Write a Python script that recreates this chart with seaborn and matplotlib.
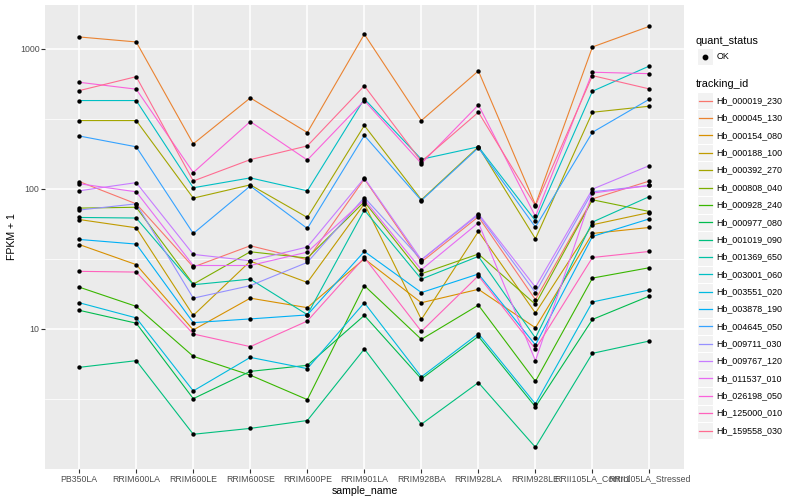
import numpy as np
import pandas as pd
import matplotlib
matplotlib.use("Agg")
import matplotlib.pyplot as plt
import seaborn as sns
from matplotlib.lines import Line2D
from matplotlib.patches import Rectangle
from matplotlib.ticker import FixedLocator, NullFormatter

# ---------------- data ----------------
samples = ["PB350LA", "RRIM600LA", "RRIM600LE", "RRIM600SE", "RRIM600PE",
           "RRIM901LA", "RRIM928BA", "RRIM928LA", "RRIM928LE",
           "RRII105LA_Control", "RRII105LA_Stressed"]

tracking_ids = ["Hb_000019_230", "Hb_000045_130", "Hb_000154_080", "Hb_000188_100",
                "Hb_000392_270", "Hb_000808_040", "Hb_000928_240", "Hb_000977_080",
                "Hb_001019_090", "Hb_001369_650", "Hb_003001_060", "Hb_003551_020",
                "Hb_003878_190", "Hb_004645_050", "Hb_009711_030", "Hb_009767_120",
                "Hb_011537_010", "Hb_026198_050", "Hb_125000_010", "Hb_159558_030"]

palette = ["#F8766D", "#EA8331", "#D89000", "#C09B00", "#A3A500", "#7CAE00",
           "#39B600", "#00BB4E", "#00BF7D", "#00C1A3", "#00BFC4", "#00BAE0",
           "#00B0F6", "#35A2FF", "#9590FF", "#C77CFF", "#E76BF3", "#FA62DB",
           "#FF62BC", "#FF6C91"]

hb_000019_230 = [113, 78.3, 27.7, 39.3, 31.2, 118, 30.1, 63.3, 16.2, 85, 114]
hb_000045_130 = [1218, 1122, 210, 447, 253, 1274, 308, 697, 77, 1033, 1452]
hb_000154_080 = [40.1, 28.8, 9.84, 16.6, 14.2, 31.7, 15.4, 19.2, 10.2, 48.1, 53.1]
hb_000188_100 = [60.5, 52.8, 12.5, 30.5, 21.5, 78.3, 11.7, 49.7, 13, 55.5, 67.9]
hb_000392_270 = [308, 308, 86, 107, 62.6, 284, 83.7, 200, 44.1, 353, 390]
hb_000808_040 = [73, 74, 20.9, 35.6, 32.1, 81, 24.8, 34.3, 15, 83.7, 69]
hb_000928_240 = [19.9, 14.5, 6.38, 4.68, 3.13, 20.4, 8.43, 14.8, 4.23, 23.1, 27.4]
hb_000977_080 = [13.6, 11, 3.18, 4.98, 5.5, 12.5, 4.4, 8.85, 2.78, 11.7, 17.2]
hb_001019_090 = [5.32, 5.94, 1.77, 1.95, 2.22, 7.2, 2.09, 4.14, 1.43, 6.7, 8.21]
hb_001369_650 = [62.6, 62, 20.7, 22.7, 12.65, 70.7, 22.7, 33, 8.63, 58, 88.3]
hb_003001_060 = [428, 428, 102, 120, 97, 440, 163, 200, 59.3, 499, 756]
hb_003551_020 = [15.4, 12, 3.61, 6.27, 5.21, 15.4, 4.55, 9.26, 2.92, 15.6, 19]
hb_003878_190 = [43.6, 40.4, 11.1, 11.8, 12.6, 35.8, 18.2, 24.7, 7.69, 45.8, 61.2]
hb_004645_050 = [239, 200, 48.1, 105, 52.2, 241, 82.7, 197, 53.4, 254, 438]
hb_009711_030 = [70.7, 78.3, 16.6, 20.4, 29.9, 86.9, 31.2, 65.4, 18.2, 95.4, 106]
hb_009767_120 = [97, 111, 34.1, 30.7, 38.5, 119.5, 31.2, 66.5, 19.9, 99.7, 147]
hb_011537_010 = [109, 95.4, 28.4, 28.4, 35.4, 83.7, 26.5, 57.3, 5.94, 93.4, 106]
hb_026198_050 = [578, 516, 131, 303, 161, 428, 152, 398, 63.6, 682, 666]
hb_125000_010 = [25.8, 25.5, 9.21, 7.48, 11.4, 32.4, 9.61, 24, 7.2, 32.4, 35.8]
hb_159558_030 = [504, 634, 114, 162, 203, 545, 157, 353, 75.8, 645, 518]

series = [hb_000019_230, hb_000045_130, hb_000154_080, hb_000188_100, hb_000392_270,
          hb_000808_040, hb_000928_240, hb_000977_080, hb_001019_090, hb_001369_650,
          hb_003001_060, hb_003551_020, hb_003878_190, hb_004645_050, hb_009711_030,
          hb_009767_120, hb_011537_010, hb_026198_050, hb_125000_010, hb_159558_030]

quant_status = ["OK"]

rows = []
for tid, vals in zip(tracking_ids, series):
    for s, v in zip(samples, vals):
        rows.append({"tracking_id": tid, "sample_name": s, "fpkm1": v, "quant_status": "OK"})
df = pd.DataFrame(rows)

# ---------------- style ----------------
plt.rcParams["font.family"] = ["Liberation Sans", "DejaVu Sans"]
W, H = 800, 500
fig = plt.figure(figsize=(8, 5), dpi=100)
L, R, T, B = 45, 683.7, 5, 469
ax = fig.add_axes([L / W, 1 - B / H, (R - L) / W, (B - T) / H])
ax.set_facecolor("#EBEBEB")
ax.set_yscale("log")

sns.lineplot(data=df, x="sample_name", y="fpkm1", hue="tracking_id",
             hue_order=tracking_ids, palette=palette, sort=False,
             estimator=None, linewidth=0.8, legend=False, ax=ax)
sns.scatterplot(data=df, x="sample_name", y="fpkm1", color="black", s=10,
                linewidth=0, legend=False, ax=ax, zorder=3)

ax.set_xlim(-0.6, len(samples) - 0.4)
ax.set_ylim(1.0, 2060)
ax.yaxis.set_major_locator(FixedLocator([10, 100, 1000]))
ax.yaxis.set_minor_locator(FixedLocator([10 ** 0.5, 10 ** 1.5, 10 ** 2.5]))
ax.yaxis.set_minor_formatter(NullFormatter())
ax.set_yticklabels(["10", "100", "1000"])
ax.set_xticks(range(len(samples)))
ax.set_xticklabels(samples)

ax.set_axisbelow(True)
ax.grid(which="major", color="white", linewidth=1.1)
ax.grid(which="minor", axis="y", color="white", linewidth=0.55)
for sp in ax.spines.values():
    sp.set_visible(False)
ax.tick_params(axis="both", which="major", length=2.8, width=0.8, color="#333333",
               labelcolor="#4D4D4D", labelsize=6.3, pad=1.2)
ax.tick_params(axis="both", which="minor", length=0)

ax.set_xlabel("sample_name", fontsize=7.6, color="black", labelpad=1.5)
ax.set_ylabel("FPKM + 1", fontsize=7.6, color="black", labelpad=2)

# ---------------- legend (ggplot style) ----------------
def fx(x):
    return x / W

def fy(y):
    return 1 - y / H

kx0, kx1 = 697.0, 713.0
kh = 17.36
tx = 716.7

fig.text(fx(696), fy(40.7), "quant_status", fontsize=7.8, va="center", ha="left")
fig.add_artist(Rectangle((fx(kx0), fy(56.7 + kh / 2)), fx(kx1 - kx0), kh / H,
                         transform=fig.transFigure, facecolor="#F2F2F2",
                         edgecolor="white", linewidth=0.8))
fig.add_artist(Line2D([fx((kx0 + kx1) / 2)], [fy(56.7)], marker="o", markersize=3.2,
                      color="black", linestyle="none", transform=fig.transFigure))
fig.text(fx(tx), fy(56.7), quant_status[0], fontsize=6.4, va="center", ha="left")

fig.text(fx(696), fy(84.3), "tracking_id", fontsize=7.8, va="center", ha="left")
for i, (tid, col) in enumerate(zip(tracking_ids, palette)):
    yc = 100.7 + kh * i
    fig.add_artist(Rectangle((fx(kx0), fy(yc + kh / 2)), fx(kx1 - kx0), kh / H,
                             transform=fig.transFigure, facecolor="#F2F2F2",
                             edgecolor="white", linewidth=0.8))
    fig.add_artist(Line2D([fx(kx0 + 1.5), fx(kx1 - 1.5)], [fy(yc), fy(yc)], color=col,
                          linewidth=0.9, transform=fig.transFigure))
    fig.text(fx(tx), fy(yc), tid, fontsize=6.4, va="center", ha="left")

fig.savefig("out.png", dpi=100)
